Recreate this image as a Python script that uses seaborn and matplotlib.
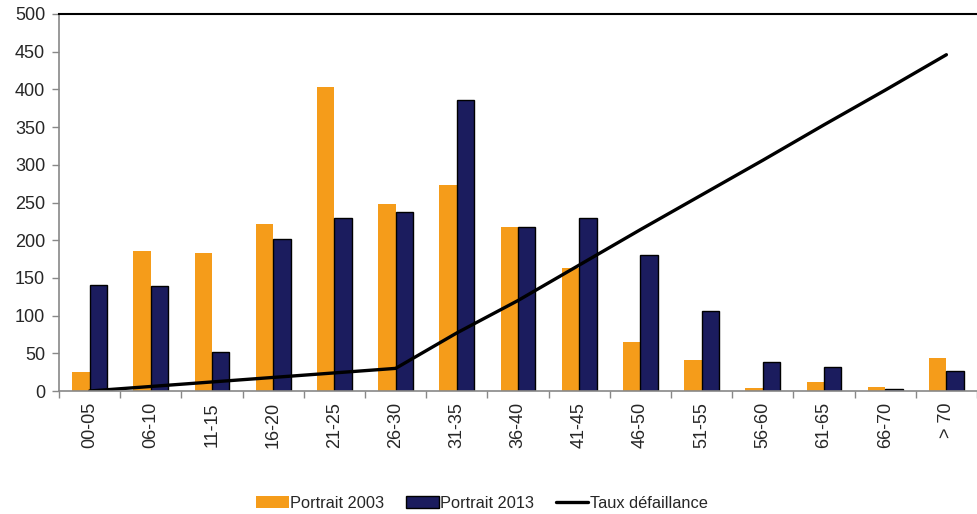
import matplotlib
matplotlib.use("Agg")
import matplotlib.pyplot as plt
import seaborn as sns
import pandas as pd
import numpy as np
from matplotlib.patches import Patch
from matplotlib.lines import Line2D

categories = ["00-05", "06-10", "11-15", "16-20", "21-25", "26-30", "31-35", "36-40",
              "41-45", "46-50", "51-55", "56-60", "61-65", "66-70", "> 70"]
portrait_2003 = [25, 186, 183, 222, 403, 248, 273, 218, 163, 65, 41, 4, 12, 5, 44]
portrait_2013 = [141, 139, 52, 202, 230, 237, 386, 217, 230, 180, 106, 39, 32, 2, 26]
taux_defaillance = [0, 6, 12, 18, 24, 30, 77, 120, 167, 214, 260, 306, 353, 399, 446]
series_names = ["Portrait 2003", "Portrait 2013", "Taux défaillance"]

c2003 = "#F59C1A"
c2013 = "#1B1C5E"

sns.set_theme(style="white")
plt.rcParams['font.family'] = ['Liberation Sans', 'DejaVu Sans']

df = pd.DataFrame({
    "cat": categories * 2,
    "val": portrait_2003 + portrait_2013,
    "serie": [series_names[0]] * len(categories) + [series_names[1]] * len(categories),
})

fig = plt.figure(figsize=(9.77, 5.14), dpi=100)
ax = fig.add_axes([59 / 977, 123 / 514, 918 / 977, 377 / 514])

sns.barplot(data=df, x="cat", y="val", hue="serie", order=categories,
            hue_order=series_names[:2], palette=[c2003, c2013], width=0.57,
            gap=0, saturation=1, ax=ax, legend=False)

n = len(categories)
for i, p in enumerate(ax.patches):
    if i < n:
        p.set_edgecolor("none")
    else:
        p.set_edgecolor("black")
        p.set_linewidth(1.0)

sns.lineplot(x=np.arange(n), y=taux_defaillance, color="black", linewidth=2.4,
             ax=ax, legend=False)

ax.set_xlim(-0.5, -0.5 + 918 / 61.7)
ax.set_ylim(0, 500)
ax.set_yticks(np.arange(0, 501, 50))
ax.set_xticks(np.arange(n))
ax.set_xticklabels(categories, rotation=90, fontsize=13)
ax.tick_params(axis="y", labelsize=13, length=5, width=1, color="#888888",
               left=True, direction="out", pad=5)
ax.tick_params(axis="x", which="major", bottom=False, length=0, pad=8)
ax.set_xticks(np.arange(-0.5, n, 1.0), minor=True)
ax.tick_params(axis="x", which="minor", bottom=True, length=5, width=1,
               color="#888888", direction="out")
ax.set_xlabel("")
ax.set_ylabel("")

for s in ["left", "bottom"]:
    ax.spines[s].set_color("#888888")
    ax.spines[s].set_linewidth(1.2)
ax.spines["right"].set_visible(False)
ax.spines["top"].set_color("black")
ax.spines["top"].set_linewidth(1.5)
ax.grid(False)

handles = [Patch(facecolor=c2003, edgecolor="none"),
           Patch(facecolor=c2013, edgecolor="black", linewidth=1.0),
           Line2D([0], [0], color="black", linewidth=2.4)]
fig.legend(handles, series_names, loc="center", bbox_to_anchor=(482 / 977, 1 - 503 / 514),
           ncol=3, frameon=False, fontsize=11.8, handlelength=2.0, handleheight=0.8,
           handletextpad=0.1, columnspacing=1.3, borderaxespad=0)

fig.savefig("out.png", dpi=100)
